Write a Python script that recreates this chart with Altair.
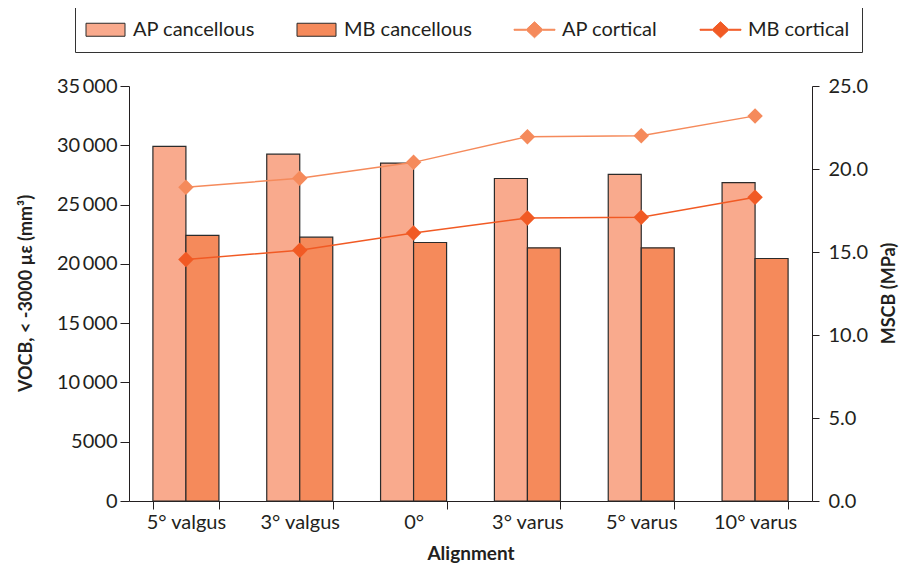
import altair as alt
import pandas as pd

categories = ["5° valgus", "3° valgus", "0°", "3° varus", "5° varus", "10° varus"]
ap_cancellous = [29900, 29250, 28500, 27200, 27550, 26850]
mb_cancellous = [22400, 22250, 21800, 21350, 21350, 20450]
ap_cortical = [18.9, 19.45, 20.4, 21.95, 22.0, 23.2]
mb_cortical = [14.55, 15.1, 16.15, 17.05, 17.1, 18.3]

series_names = ["AP cancellous", "MB cancellous", "AP cortical", "MB cortical"]
fill_colors = ["#F9AA8D", "#F58A5B", "#F58A5B", "#F15A24"]
stroke_colors = ["#2b2b2b", "#2b2b2b", "#F58A5B", "#F15A24"]
rect_path = "M-1.95,-0.65H1.95V0.65H-1.95Z"
line_path = "M-2.05,-0.05H-0.8L0,-0.8L0.8,-0.05H2.05V0.05H0.8L0,0.8L-0.8,0.05H-2.05Z"
shape_paths = [rect_path, rect_path, line_path, line_path]

bars_df = pd.DataFrame(
    [{"cat": c, "series": "AP cancellous", "v": v} for c, v in zip(categories, ap_cancellous)]
    + [{"cat": c, "series": "MB cancellous", "v": v} for c, v in zip(categories, mb_cancellous)]
)
lines_df = pd.DataFrame(
    [{"cat": c, "series": "AP cortical", "v": v} for c, v in zip(categories, ap_cortical)]
    + [{"cat": c, "series": "MB cortical", "v": v} for c, v in zip(categories, mb_cortical)]
)

FONT = "Lato"
TXT = "#231f20"

fill_scale = alt.Scale(domain=series_names, range=fill_colors)
stroke_scale = alt.Scale(domain=series_names, range=stroke_colors)
shape_scale = alt.Scale(domain=series_names, range=shape_paths)

legend = alt.Legend(
    title=None, orient="none", direction="horizontal", legendX=-54, legendY=-79,
    columns=4, columnPadding=40, labelOffset=17, symbolOffset=8, symbolSize=400,
    padding=12, strokeColor="#333333", labelFont=FONT, labelFontSize=20,
    labelColor=TXT, symbolStrokeWidth=1, labelLimit=300,
)

x_enc = alt.X(
    "cat:N", sort=categories,
    scale=alt.Scale(paddingInner=0.42, paddingOuter=0.21),
    axis=alt.Axis(
        title="Alignment", tickBand="extent", labelAngle=0, tickSize=8,
        labelPadding=3, titleY=58, titleBaseline="alphabetic", titleFontSize=19,
    ),
)

bars = alt.Chart(bars_df).mark_bar(stroke="#2b2b2b", strokeWidth=1.2).encode(
    x=x_enc,
    xOffset=alt.XOffset("series:N", sort=series_names[:2]),
    y=alt.Y(
        "v:Q", scale=alt.Scale(domain=[0, 35000]),
        axis=alt.Axis(
            orient="left", title="VOCB, < -3000 µε (mm³)", values=list(range(0, 35001, 5000)),
            labelExpr="datum.value >= 10000 ? replace(format(datum.value, ','), ',', '\u2009') : format(datum.value, 'd')",
            tickSize=9, labelPadding=3, titleX=-98, titleY=207, titleAngle=270,
            titleBaseline="alphabetic", titleAlign="center",
        ),
    ),
    fill=alt.Fill("series:N", scale=fill_scale, legend=None),
)

right_axis = alt.Axis(
    orient="right", title="MSCB (MPa)", values=[0, 5, 10, 15, 20, 25], format=".1f",
    tickSize=7, labelPadding=9, titleX=82, titleY=207, titleAngle=270,
    titleBaseline="alphabetic", titleAlign="center",
)

line = alt.Chart(lines_df).mark_line(strokeWidth=1.5).encode(
    x=alt.X("cat:N", sort=categories),
    y=alt.Y("v:Q", scale=alt.Scale(domain=[0, 25]), axis=right_axis),
    stroke=alt.Stroke("series:N", scale=stroke_scale, legend=None),
)
pts = alt.Chart(lines_df).mark_point(shape="diamond", filled=True, size=240, opacity=1).encode(
    x=alt.X("cat:N", sort=categories),
    y=alt.Y("v:Q", scale=alt.Scale(domain=[0, 25]), axis=right_axis),
    fill=alt.Fill("series:N", scale=fill_scale, legend=None),
)
lines = alt.layer(line, pts)

legend_layer = alt.Chart(lines_df).transform_filter("false").mark_point(
    filled=True, size=400, opacity=1, strokeWidth=1
).encode(
    fill=alt.Fill("series:N", scale=fill_scale, legend=legend),
    stroke=alt.Stroke("series:N", scale=stroke_scale, legend=legend),
    shape=alt.Shape("series:N", scale=shape_scale, legend=legend),
)

chart = alt.layer(legend_layer, bars, lines).resolve_scale(y="independent").properties(
    width=683, height=415,
    autosize=alt.AutoSizeParams(type="none"),
    padding={"left": 121, "top": 78, "right": 89, "bottom": 62},
).configure_view(stroke=None).configure_axis(
    labelFont=FONT, labelFontSize=20, labelColor=TXT, titleFont=FONT, titleFontSize=18,
    titleFontWeight="bold", titleColor=TXT, domainColor=TXT, tickColor=TXT, grid=False,
    domainWidth=1, tickWidth=1,
)

chart.save("out.html", embed_options={"renderer": "svg", "actions": False})
